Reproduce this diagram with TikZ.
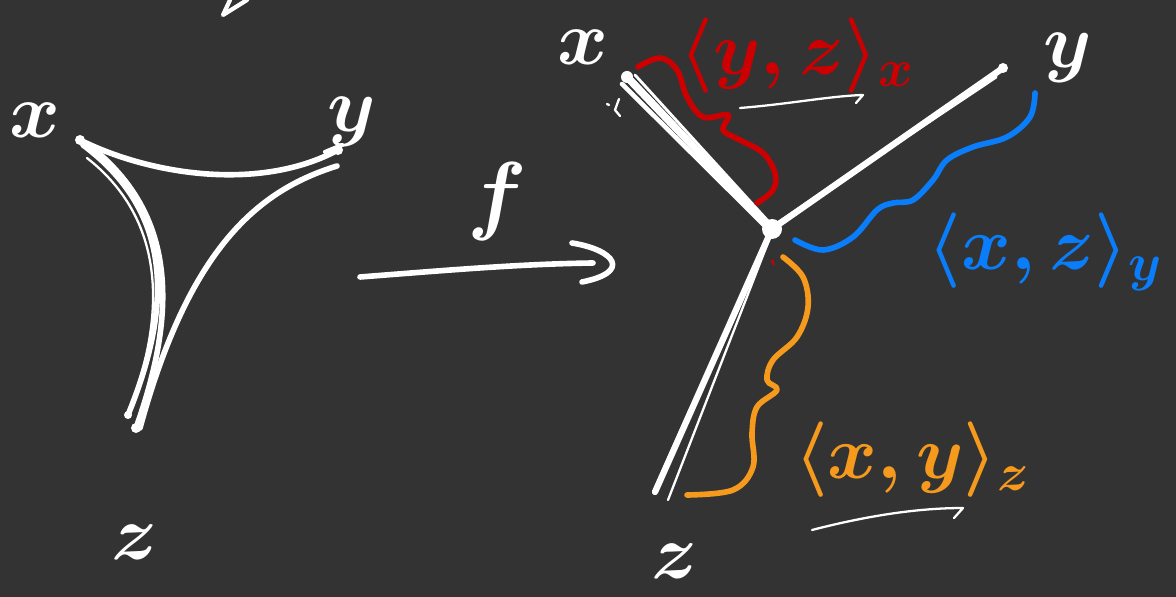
\RequirePackage{fix-cm}
\documentclass[tikz,border=0pt]{standalone}
\usepackage{amsmath}
\usetikzlibrary{calc}
\definecolor{board}{RGB}{51,51,51}
\definecolor{penred}{RGB}{204,0,0}
\definecolor{penblue}{RGB}{10,125,250}
\definecolor{penorange}{RGB}{246,154,30}
\begin{document}
\begin{tikzpicture}[x=0.02cm, y=-0.02cm,
    chalk/.style={white, line width=3.2pt, line cap=round, line join=round},
    thinchalk/.style={white, line width=1.3pt, line cap=round, line join=round},
    wiggle/.style={line width=3.2pt, line cap=round, line join=round},
    letter/.style={white, inner sep=0pt, font=\fontsize{44}{48}\selectfont\boldmath},
    tag/.style={inner sep=0pt, font=\fontsize{43}{47}\selectfont\boldmath}]
    \fill[board] (0,0) rectangle (1176,597);
    \useasboundingbox (0,0) rectangle (1176,597);

    \draw[chalk, line width=2.4pt] (230,0) -- (223,15) -- (247,0);

    \coordinate (lx) at (80,140);
    \coordinate (ly) at (338,150);
    \coordinate (lz) at (136,428);

    \draw[chalk] (lx) .. controls (150,175) and (260,192) .. (ly);
    \draw[chalk] (83,145) .. controls (170,210) and (175,300) .. (128,415);
    \draw[chalk] (90,146) .. controls (176,214) and (178,310) .. (lz);
    \draw[thinchalk] (87,158) .. controls (160,215) and (165,300) .. (138,385);
    \draw[chalk] (337,166) .. controls (260,190) and (190,245) .. (140,428);
    \draw[chalk, line width=2.4pt] (325,152) -- (342,145);
    \fill[white] (lx) circle (5) (ly) circle (5) (lz) circle (5) (128,415) circle (4);

    \node[letter] (lxlab) at (35,120) {$x$};
    \node[letter] (lylab) at (352,122) {$y$};
    \node[letter] (lzlab) at (135,542) {$z$};

    \coordinate (fa) at (360,277);
    \coordinate (fb) at (593,263);
    \draw[chalk] (fa) .. controls (450,270) and (520,264) .. (fb);
    \draw[chalk] (572,243) .. controls (615,250) and (632,272) .. (582,282);
    \node[letter, font=\fontsize{50}{54}\selectfont\boldmath] (flab) at (497,202) {$f$};

    \coordinate (c) at (772,229);
    \coordinate (rx) at (627,77);
    \coordinate (ry) at (1003,68);
    \coordinate (rz) at (655,492);

    \foreach \dx/\dy/\w in {0/0/4.2, -5/7/2.6, 5/3/2.6, -2/10/1.6, 8/-2/1.6}
        \draw[chalk, line width=\w pt] ($(rx)+(\dx,\dy)$) -- ($(c)+(\dx/3,\dy/3)$);
    \draw[chalk, line width=3.6pt] (ry) -- (c);
    \draw[chalk, line width=1.8pt] (996,77) -- (779,222);
    \draw[chalk, line width=3.6pt] (c) -- (rz);
    \draw[thinchalk] (769,240) -- (668,500);
    \fill[white] (c) circle (10) (ry) circle (5) (rx) circle (6);
    \draw[thinchalk] (607,104) -- (609,105) (619,99) -- (615,110) -- (620,116);

    \node[letter] (rxlab) at (583,47) {$x$};
    \node[letter] (rylab) at (1068,58) {$y$};
    \node[letter] (rzlab) at (675,561) {$z$};

    \draw[wiggle, penred] plot[smooth, tension=0.6] coordinates
        {(638,67) (660,58) (677,70) (687,97) (703,117) (728,115) (723,130) (740,140) (763,153) (775,173) (773,190) (757,203)};
    \draw[wiggle, penblue] plot[smooth, tension=0.6] coordinates
        {(1035,93) (1030,117) (1007,137) (973,147) (947,160) (933,180) (913,200) (893,203) (877,210) (853,237) (823,250) (795,240)};
    \draw[wiggle, penorange] plot[smooth, tension=0.6] coordinates
        {(783,257) (803,277) (808,307) (797,337) (773,360) (767,380) (777,390) (757,407) (752,433) (753,467) (733,490) (687,495)};
    \draw[penred, line width=1.2pt] (772,260) -- (774,265);

    \node[tag, penred] (yzx) at (797,56) {$\langle y,z\rangle_x$};
    \node[tag, penblue] (xzy) at (1045,252) {$\langle x,z\rangle_y$};
    \node[tag, penorange] (xyz) at (912,460) {$\langle x,y\rangle_z$};

    \draw[thinchalk] (740,108) .. controls (790,104) and (830,96) .. (863,95) -- (856,103);
    \draw[thinchalk] (812,530) .. controls (870,515) and (920,508) .. (963,508) -- (954,518);
\end{tikzpicture}
\end{document}
